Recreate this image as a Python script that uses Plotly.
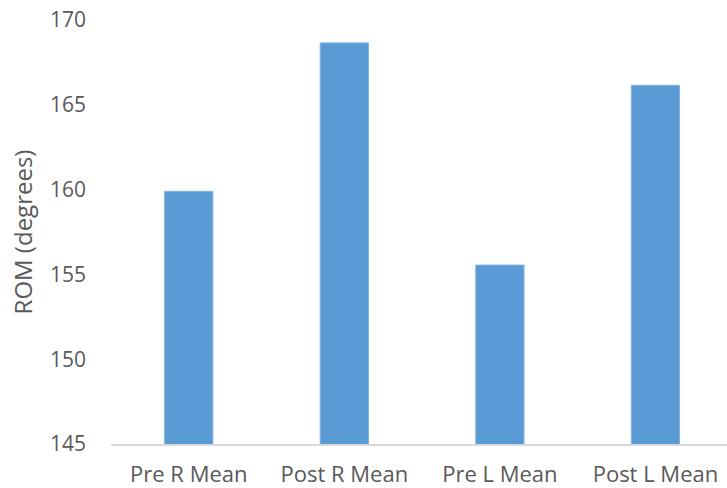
import plotly.graph_objects as go

categories = ["Pre R Mean", "Post R Mean", "Pre L Mean", "Post L Mean"]
values = [159.9, 168.65, 155.55, 166.15]
y_ticks = [145, 150, 155, 160, 165, 170]

fig = go.Figure()
fig.add_trace(go.Bar(
    x=categories,
    y=values,
    marker=dict(color="#5b9bd5", line=dict(color="#7fb2e0", width=1)),
    width=0.31,
))

fig.update_layout(
    width=727, height=488,
    margin=dict(l=111, r=0, t=20, b=44),
    paper_bgcolor="white", plot_bgcolor="white",
    font=dict(family="Open Sans", size=20, color="#595959"),
    showlegend=False,
    xaxis=dict(
        range=[-0.5, 3.46],
        showgrid=False,
        showline=True, linecolor="#d9d9d9", linewidth=1.5,
        ticks="", ticklabelstandoff=10, ticklabeloverflow="allow",
        tickfont=dict(size=22, color="#595959"),
        automargin=False,
    ),
    yaxis=dict(
        range=[145, 170],
        tickvals=y_ticks,
        showgrid=False, zeroline=False, showline=False,
        ticks="", ticklabelstandoff=24, ticklabeloverflow="allow",
        tickfont=dict(size=21, color="#595959"),
        title=dict(text="ROM (degrees)", font=dict(size=24, color="#595959"), standoff=10),
        automargin=False,
    ),
)

fig.write_html(
    "out.html",
    config={"displayModeBar": False},
    post_script="document.body.style.margin='0';document.body.style.overflow='hidden';",
)
